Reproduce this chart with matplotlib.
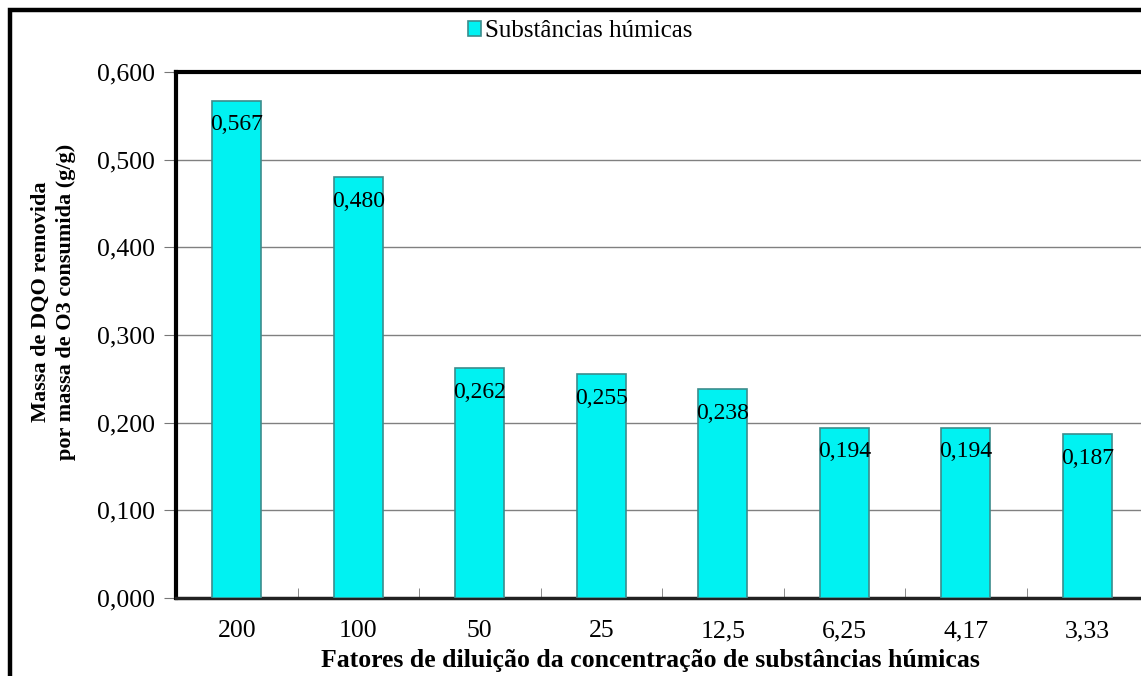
#!/usr/bin/env python3
import matplotlib
matplotlib.use("Agg")
import matplotlib.pyplot as plt
from matplotlib.patches import Rectangle
import numpy as np

fatores = ["200", "100", "50", "25", "12,5", "6,25", "4,17", "3,33"]
massa = [0.567, 0.480, 0.262, 0.255, 0.238, 0.194, 0.194, 0.187]
yticks = [0.0, 0.1, 0.2, 0.3, 0.4, 0.5, 0.6]


def fmt(v):
    return ("%.3f" % v).replace(".", ",")


def main():
    plt.rcParams["font.family"] = ["Liberation Serif", "DejaVu Serif"]

    W, H = 1141, 676
    fig = plt.figure(figsize=(W / 100, H / 100), dpi=100)

    # outer frame of the chart, cropped on the right and bottom
    fig.patches.append(Rectangle((9.5 / W, -0.05), 1.2, 1 - 9.5 / H + 0.05,
                                 transform=fig.transFigure, fill=False,
                                 edgecolor="black", lw=3.2, zorder=5))

    left, right, top, bottom = 176, 1148, 72, 598
    ax = fig.add_axes([left / W, 1 - bottom / H, (right - left) / W,
                       (bottom - top) / H])

    x = np.arange(len(fatores))
    bars = ax.bar(x, massa, width=0.4, color="#00f2f2", edgecolor="#3c8c8c",
                  lw=1.2, zorder=3, label="Substâncias húmicas")

    for b, v in zip(bars, massa):
        ax.annotate(fmt(v), (b.get_x() + b.get_width() / 2, v),
                    xytext=(0, -24), textcoords="offset pixels",
                    ha="center", va="center", fontsize=17, zorder=4)

    ax.set_xlim(-0.5, len(fatores) - 0.5)
    ax.set_ylim(0, 0.6)
    ax.set_yticks(yticks)
    ax.set_yticklabels([fmt(v) for v in yticks], fontsize=18.5)
    ax.set_xticks(x)
    ax.set_xticklabels(fatores, fontsize=18.5)
    ax.set_xticks(np.arange(len(fatores) - 1) + 0.5, minor=True)
    ax.tick_params(axis="x", which="major", length=0, pad=16)
    ax.tick_params(axis="x", which="minor", direction="in", length=7,
                   color="#777777")
    ax.tick_params(axis="y", direction="out", length=9, color="#777777", pad=6)

    ax.yaxis.grid(True, color="#808080", lw=1)
    ax.set_axisbelow(True)

    for side in ["left", "top"]:
        ax.spines[side].set_linewidth(3)
        ax.spines[side].set_color("black")
    ax.spines["bottom"].set_linewidth(2.5)
    ax.spines["bottom"].set_color("#222222")
    ax.spines["right"].set_visible(False)

    ax.set_ylabel("Massa de DQO removida\npor massa de O3 consumida (g/g)",
                  fontsize=16, fontweight="bold", linespacing=1.35)
    ax.yaxis.set_label_coords(-(left - 76) / (right - left),
                              (bottom - 302) / (bottom - top))
    ax.set_xlabel("Fatores de diluição da concentração de substâncias húmicas",
                  fontsize=18.5, fontweight="bold")
    ax.xaxis.set_label_coords((650 - left) / (right - left),
                              -(660 - bottom) / (bottom - top))
    ax.xaxis.label.set_va("center")

    fig.legend(handles=[bars], loc="center", bbox_to_anchor=(580 / W, 1 - 31 / H),
               frameon=False, fontsize=18, handlelength=0.55, handleheight=0.55,
               handletextpad=0.15)

    fig.savefig("out.png", dpi=100)


if __name__ == "__main__":
    main()
